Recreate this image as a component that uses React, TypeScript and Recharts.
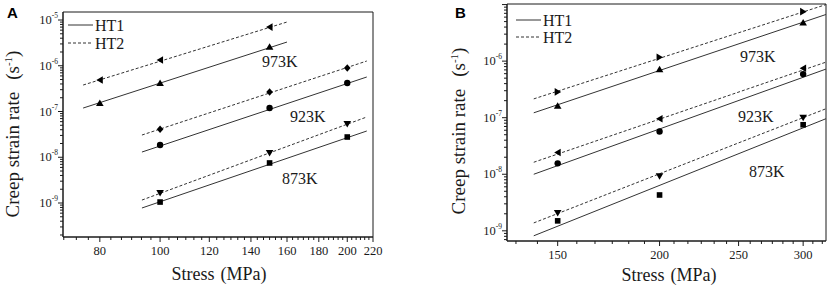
import React from 'react';
import { ScatterChart, Scatter, XAxis, YAxis, ReferenceArea } from 'recharts';

// ---- panel A data (stress in MPa, creep strain rate in 1/s) ----
const a973Stress = [80, 100, 150];
const a923Stress = [100, 150, 200];
const a873Stress = [100, 150, 200];
const a973HT1 = [1.53e-7, 4.2e-7, 2.6e-6];
const a973HT2 = [4.9e-7, 1.34e-6, 7.0e-6];
const a923HT1 = [1.85e-8, 1.19e-7, 4.2e-7];
const a923HT2 = [4.1e-8, 2.67e-7, 8.9e-7];
const a873HT1 = [1.05e-9, 7.5e-9, 2.77e-8];
const a873HT2 = [1.66e-9, 1.24e-8, 5.3e-8];

// fitted lines, panel A (end points)
const a973FitStress = [75.2, 160];
const a9xxFitStress = [93.5, 215];
const a973FitHT1 = [1.19e-7, 3.3e-6];
const a973FitHT2 = [3.79e-7, 9.04e-6];
const a923FitHT1 = [1.3e-8, 5.68e-7];
const a923FitHT2 = [3.06e-8, 1.27e-6];
const a873FitHT1 = [7.78e-10, 3.75e-8];
const a873FitHT2 = [1.16e-9, 7.59e-8];

// ---- panel B data ----
const bStress = [150, 200, 300];
const b973HT1 = [1.63e-7, 7.2e-7, 4.8e-6];
const b973HT2 = [2.86e-7, 1.17e-6, 7.5e-6];
const b923HT1 = [1.56e-8, 5.7e-8, 5.9e-7];
const b923HT2 = [2.43e-8, 9.6e-8, 7.5e-7];
const b873HT1 = [1.5e-9, 4.3e-9, 7.5e-8];
const b873HT2 = [2.07e-9, 9.2e-9, 1.0e-7];

const bFitStress = [140.2, 320];
const b973FitHT1 = [1.22e-7, 6.68e-6];
const b973FitHT2 = [2.15e-7, 1.0e-5];
const b923FitHT1 = [1.0e-8, 7.24e-7];
const b923FitHT2 = [1.63e-8, 9.6e-7];
const b873FitHT1 = [8.17e-10, 9.6e-8];
const b873FitHT2 = [1.38e-9, 1.44e-7];

// ---- axes ----
const aXMajor = [80, 100, 120, 140, 160, 180, 200, 220];
const bXMajor = [150, 200, 250, 300];
const aDecades = [-10, -9, -8, -7, -6, -5];
const bDecades = [-10, -9, -8, -7, -6, -5];
const aYLabelled = [-9, -8, -7, -6, -5];
const bYLabelled = [-9, -8, -7, -6];
const mantissas = [1, 2, 3, 4, 5, 6, 7, 8, 9];

const aXDomain = [69.8, 220];
const bXDomain = [130, 320];
const aYDomain = [Math.pow(10, -9.743), Math.pow(10, -4.825)];
const bYDomain = [Math.pow(10, -9.18), Math.pow(10, -4.99)];

const SERIF = '"Liberation Serif", "Times New Roman", serif';
const INK = '#1a1a1a';
const LINE = '#333';

function linearMinor(majors: number[], step: number, lo: number, hi: number) {
  const out: number[] = [];
  const start = majors[0] - step * Math.floor((majors[0] - lo) / step);
  for (let v = start; v <= hi + 1e-9; v += step) out.push(Math.round(v * 1000) / 1000);
  return out;
}

function logTicks(decades: number[], lo: number, hi: number) {
  const out: number[] = [];
  decades.forEach((e) =>
    mantissas.forEach((m) => {
      const v = m * Math.pow(10, e);
      if (v >= lo && v <= hi) out.push(v);
    })
  );
  return out;
}

const aXTicks = linearMinor(aXMajor, 20 / 6, aXDomain[0], aXDomain[1]);
const bXTicks = linearMinor(bXMajor, 50 / 6, bXDomain[0], bXDomain[1]);
const aYTicks = logTicks(aDecades, aYDomain[0], aYDomain[1]);
const bYTicks = logTicks(bDecades, bYDomain[0], bYDomain[1]);

const zip = (xs: number[], ys: number[]) => xs.map((x, i) => ({ x, y: ys[i] }));

const makeXTick = (majors: number[]) => (props: any) => {
  const { x, y, payload } = props;
  const v = payload.value;
  const major = majors.some((m) => Math.abs(m - v) < 1e-6);
  return (
    <g>
      <line x1={x} y1={y} x2={x} y2={y + (major ? 5 : 3)} stroke={INK} strokeWidth={1} />
      {major && (
        <text x={x} y={y + 18} textAnchor="middle" fontSize={12.5} fontFamily={SERIF} fill={INK}>
          {v}
        </text>
      )}
    </g>
  );
};

const makeYTick = (labelled: number[]) => (props: any) => {
  const { x, y, payload } = props;
  const lg = Math.log10(payload.value);
  const e = Math.round(lg);
  const major = Math.abs(lg - e) < 1e-6;
  return (
    <g>
      <line x1={x - (major ? 5 : 3)} y1={y} x2={x} y2={y} stroke={INK} strokeWidth={1} />
      {major && labelled.includes(e) && (
        <text x={x - 5} y={y + 4} textAnchor="end" fontSize={12.5} fontFamily={SERIF} fill={INK}>
          <tspan>10</tspan>
          <tspan dy={-6} fontSize={7.5}>{`-${Math.abs(e)}`}</tspan>
        </text>
      )}
    </g>
  );
};

type Kind = 'up' | 'down' | 'left' | 'right' | 'circle' | 'square' | 'diamond';

const marker = (kind: Kind) => (props: any) => {
  const { cx, cy } = props;
  if (cx == null || cy == null) return <g />;
  const s = 3.8;
  switch (kind) {
    case 'up':
      return <polygon points={`${cx - s},${cy + 3} ${cx + s},${cy + 3} ${cx},${cy - 3.5}`} fill="#000" />;
    case 'down':
      return <polygon points={`${cx - s},${cy - 3} ${cx + s},${cy - 3} ${cx},${cy + 3.5}`} fill="#000" />;
    case 'left':
      return <polygon points={`${cx + 3},${cy - s} ${cx + 3},${cy + s} ${cx - 3.5},${cy}`} fill="#000" />;
    case 'right':
      return <polygon points={`${cx - 3},${cy - s} ${cx - 3},${cy + s} ${cx + 3.5},${cy}`} fill="#000" />;
    case 'circle':
      return <circle cx={cx} cy={cy} r={3.2} fill="#000" />;
    case 'square':
      return <rect x={cx - 2.8} y={cy - 2.8} width={5.6} height={5.6} fill="#000" />;
    default:
      return <polygon points={`${cx},${cy - 3.8} ${cx + 3.3},${cy} ${cx},${cy + 3.8} ${cx - 3.3},${cy}`} fill="#000" />;
  }
};

const noDot = () => <g />;

function fitLine(key: string, xs: number[], ys: number[], dashed: boolean) {
  return (
    <Scatter
      key={key}
      data={zip(xs, ys)}
      shape={noDot}
      line={{ stroke: LINE, strokeWidth: 1, strokeDasharray: dashed ? '3 2' : undefined }}
      fill={LINE}
      isAnimationActive={false}
    />
  );
}

function points(key: string, xs: number[], ys: number[], kind: Kind) {
  return <Scatter key={key} data={zip(xs, ys)} shape={marker(kind)} fill="#000" isAnimationActive={false} />;
}

function axes(xDomain: number[], yDomain: number[], xTicks: number[], yTicks: number[], xMajor: number[], labelled: number[], xHeight: number, yWidth: number) {
  return [
    <XAxis
      key="xb"
      type="number"
      dataKey="x"
      scale="log"
      domain={xDomain}
      allowDataOverflow
      ticks={xTicks}
      interval={0}
      height={xHeight}
      tickSize={0}
      tickMargin={0}
      tickLine={false}
      tick={makeXTick(xMajor)}
      axisLine={{ stroke: INK, strokeWidth: 1 }}
    />,
    <YAxis
      key="yl"
      type="number"
      dataKey="y"
      scale="log"
      domain={yDomain}
      allowDataOverflow
      ticks={yTicks}
      interval={0}
      width={yWidth}
      tickSize={0}
      tickMargin={0}
      tickLine={false}
      tick={makeYTick(labelled)}
      axisLine={{ stroke: INK, strokeWidth: 1 }}
    />,
    <ReferenceArea
      key="box"
      x1={xDomain[0]}
      x2={xDomain[1]}
      y1={yDomain[0]}
      y2={yDomain[1]}
      fill="none"
      fillOpacity={0}
      stroke={INK}
      strokeWidth={1}
      ifOverflow="visible"
    />,
  ];
}

function PanelA() {
  return (
    <ScatterChart width={415} height={290} margin={{ top: 12, right: 42, left: 0, bottom: 0 }}>
      {axes(aXDomain, aYDomain, aXTicks, aYTicks, aXMajor, aYLabelled, 53, 63)}
      {fitLine('f1', a973FitStress, a973FitHT1, false)}
      {fitLine('f2', a973FitStress, a973FitHT2, true)}
      {fitLine('f3', a9xxFitStress, a923FitHT1, false)}
      {fitLine('f4', a9xxFitStress, a923FitHT2, true)}
      {fitLine('f5', a9xxFitStress, a873FitHT1, false)}
      {fitLine('f6', a9xxFitStress, a873FitHT2, true)}
      {points('p1', a973Stress, a973HT1, 'up')}
      {points('p2', a973Stress, a973HT2, 'left')}
      {points('p3', a923Stress, a923HT1, 'circle')}
      {points('p4', a923Stress, a923HT2, 'diamond')}
      {points('p5', a873Stress, a873HT1, 'square')}
      {points('p6', a873Stress, a873HT2, 'down')}
    </ScatterChart>
  );
}

function PanelB() {
  return (
    <ScatterChart width={414} height={290} margin={{ top: 4, right: 3, left: 0, bottom: 0 }}>
      {axes(bXDomain, bYDomain, bXTicks, bYTicks, bXMajor, bYLabelled, 49, 92)}
      {fitLine('f1', bFitStress, b973FitHT1, false)}
      {fitLine('f2', bFitStress, b973FitHT2, true)}
      {fitLine('f3', bFitStress, b923FitHT1, false)}
      {fitLine('f4', bFitStress, b923FitHT2, true)}
      {fitLine('f5', bFitStress, b873FitHT1, false)}
      {fitLine('f6', bFitStress, b873FitHT2, true)}
      {points('p1', bStress, b973HT1, 'up')}
      {points('p2', bStress, b973HT2, 'right')}
      {points('p3', bStress, b923HT1, 'circle')}
      {points('p4', bStress, b923HT2, 'left')}
      {points('p5', bStress, b873HT1, 'square')}
      {points('p6', bStress, b873HT2, 'down')}
    </ScatterChart>
  );
}

function Overlay() {
  const t = { fontFamily: SERIF, fill: INK } as const;
  const yTitle = (x: number, cy: number) => (
    <text x={x} y={cy} transform={`rotate(-90 ${x} ${cy})`} textAnchor="middle" fontSize={19} {...t}>
      <tspan>Creep strain rate</tspan>
      <tspan dx={12}>(s</tspan>
      <tspan dy={-7} fontSize={11}>-1</tspan>
      <tspan dy={7}>)</tspan>
    </text>
  );
  return (
    <svg width={829} height={290} style={{ position: 'absolute', left: 0, top: 0, pointerEvents: 'none' }}>
      <text x={7} y={18} fontSize={15} fontWeight="bold" fontFamily="Liberation Sans, Arial, sans-serif" fill="#000">A</text>
      <text x={455} y={18} fontSize={15} fontWeight="bold" fontFamily="Liberation Sans, Arial, sans-serif" fill="#000">B</text>

      {yTitle(19, 134)}
      {yTitle(465, 131)}

      <text x={219} y={280} textAnchor="middle" fontSize={18} {...t}>
        <tspan>Stress</tspan>
        <tspan dx={6}>(MPa)</tspan>
      </text>
      <text x={669} y={281} textAnchor="middle" fontSize={18} {...t}>
        <tspan>Stress</tspan>
        <tspan dx={6}>(MPa)</tspan>
      </text>

      <line x1={68} y1={25} x2={93} y2={25} stroke={LINE} />
      <line x1={68} y1={43} x2={93} y2={43} stroke={LINE} strokeDasharray="3 2" />
      <text x={95} y={30.5} fontSize={16} {...t}>HT1</text>
      <text x={95} y={48.5} fontSize={16} {...t}>HT2</text>

      <line x1={516} y1={20} x2={541} y2={20} stroke={LINE} />
      <line x1={516} y1={37} x2={541} y2={37} stroke={LINE} strokeDasharray="3 2" />
      <text x={543} y={25.5} fontSize={16} {...t}>HT1</text>
      <text x={543} y={42.5} fontSize={16} {...t}>HT2</text>

      <text x={262} y={67} fontSize={16} {...t}>973K</text>
      <text x={290} y={122} fontSize={16} {...t}>923K</text>
      <text x={282} y={184} fontSize={16} {...t}>873K</text>
      <text x={740} y={62} fontSize={16} {...t}>973K</text>
      <text x={738} y={122} fontSize={16} {...t}>923K</text>
      <text x={749} y={177} fontSize={16} {...t}>873K</text>
    </svg>
  );
}

export default function App() {
  return (
    <div style={{ position: 'absolute', left: 0, top: 0, width: 829, height: 290, background: '#fff' }}>
      <div style={{ position: 'absolute', left: 0, top: 0 }}>
        <PanelA />
      </div>
      <div style={{ position: 'absolute', left: 415, top: 0 }}>
        <PanelB />
      </div>
      <Overlay />
    </div>
  );
}
